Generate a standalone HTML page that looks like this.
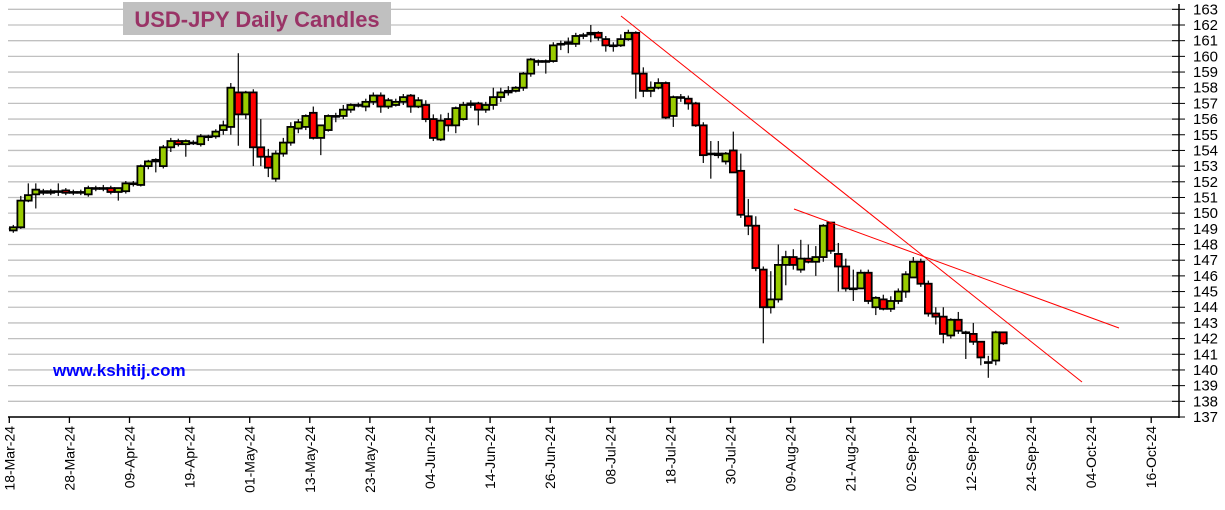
<!DOCTYPE html>
<html><head><meta charset="utf-8"><style>
body{margin:0;background:#fff;}
svg{display:block;font-family:"Liberation Sans",Arial,sans-serif;}
</style></head><body>
<svg id="s" width="1225" height="510" xmlns="http://www.w3.org/2000/svg"></svg>
<script>
const s=document.getElementById('s');
const Y=p=>417-(p-137)*15.68;
const X=i=>13.3+7.5*i;
let h='';
for(let p=137;p<=163;p++){const y=Y(p);h+=`<line x1="8" x2="1179" y1="${y}" y2="${y}" stroke="#c0c0c0" stroke-width="1.3"/>`;
h+=`<line x1="1172" x2="1185" y1="${y}" y2="${y}" stroke="#000" stroke-width="1"/>`;
h+=`<text x="1193" y="${y+5}" font-size="15">${p}</text>`;}
h+=`<line x1="1179" x2="1179" y1="4" y2="418" stroke="#000" stroke-width="1.5"/>`;
h+=`<line x1="8" x2="1179" y1="417" y2="417" stroke="#000" stroke-width="1.5"/>`;
const L=["18-Mar-24","28-Mar-24","09-Apr-24","19-Apr-24","01-May-24","13-May-24","23-May-24","04-Jun-24","14-Jun-24","26-Jun-24","08-Jul-24","18-Jul-24","30-Jul-24","09-Aug-24","21-Aug-24","02-Sep-24","12-Sep-24","24-Sep-24","04-Oct-24","16-Oct-24"];
L.forEach((t,k)=>{const x=9.3+60.1*k;h+=`<line x1="${x}" x2="${x}" y1="417" y2="423" stroke="#000" stroke-width="1.3"/>`;
h+=`<text transform="translate(${x+5},426) rotate(-90)" text-anchor="end" font-size="14">${t}</text>`;});
const D=[[148.9,149.1],[149.1,150.8,151.1,149.0],[150.8,151.15,151.9,150.7],[151.2,151.5,151.9,150.3],[151.4,151.3],[151.3,151.4],[151.35,151.4,151.9,151.1],[151.45,151.3],[151.35,151.3],[151.3,151.35],[151.2,151.6],[151.55,151.6],[151.6,151.6,151.8,151.4],[151.6,151.35],[151.35,151.6,151.6,150.8],[151.4,151.9],[151.85,151.9],[151.8,153.0,153.1,151.7],[153.0,153.3,153.4,152.8],[153.3,153.4,153.5,152.6],[153.0,154.2],[154.2,154.6,154.8,153.9],[154.6,154.4],[154.4,154.6,154.7,153.6],[154.5,154.5],[154.4,154.9],[154.9,154.9,155.0,154.6],[154.9,155.2],[155.3,155.6,155.9,155.0],[155.5,158.0,158.3,155.0],[157.7,156.3,160.2,154.3],[156.3,157.7,157.8,156.0],[157.7,154.2,157.9,153.0],[154.2,153.6,156.0,153.0],[153.6,152.9,154.1,152.3],[152.2,153.8,154.0,152.0],[153.8,154.5,154.8,153.6],[154.5,155.5,155.8,154.3],[155.4,155.8,156.0,155.1],[155.5,156.2,156.3,155.3],[156.4,154.8,156.8,154.7],[154.8,155.6,155.6,153.7],[155.3,156.2,156.3,155.2],[156.2,156.2,156.4,155.8],[156.2,156.6,156.9,156.0],[156.6,156.9,157.0,156.4],[156.9,156.9],[156.8,157.1,157.3,156.5],[157.1,157.5,157.7,156.9],[157.5,156.8,157.7,156.4],[156.8,157.2],[156.9,157.1,157.3,156.8],[157.1,157.4,157.6,156.9],[157.5,156.8,157.6,156.4],[156.8,157.2,157.4,156.7],[156.9,156.0,157.2,155.8],[156.0,154.8,156.3,154.6],[154.7,155.9,156.3,154.6],[156.0,155.6,156.4,155.2],[155.6,156.7,156.8,155.1],[156.0,156.9,157.1,155.9],[156.9,157.0,157.2,156.7],[157.0,156.6,157.1,155.6],[156.6,156.9,157.1,156.4],[156.9,157.4,158.0,156.6],[157.4,157.7,158.0,157.1],[157.7,157.8,158.1,157.5],[157.8,158.0,158.1,157.7],[158.0,158.9,159.0,157.8],[158.9,159.8,159.9,158.7],[159.7,159.7,159.8,159.4],[159.7,159.7,159.8,158.9],[159.7,160.7,160.9,159.6],[160.8,160.8,161.0,160.4],[160.8,160.9,161.2,160.2],[160.8,161.3,161.5,160.6],[161.3,161.35,161.5,161.1],[161.4,161.5,162.0,160.9],[161.5,161.2,161.6,161.0],[161.1,160.7,161.3,160.3],[160.7,160.7,160.9,160.3],[160.7,161.1,161.4,160.6],[161.1,161.5,161.7,161.0],[161.5,158.9,161.6,157.3],[158.9,157.8,159.3,157.4],[157.8,158.0,158.4,157.4],[158.0,158.3,158.6,157.9],[158.3,156.1,158.4,156.0],[156.2,157.4,157.5,155.5],[157.4,157.4,157.6,157.1],[157.3,157.0,157.5,156.6],[157.0,155.6,157.1,155.5],[155.6,153.7,155.8,153.2],[153.8,153.8,154.6,152.2],[153.8,153.7,154.6,153.5],[153.3,153.8,153.9,153.1],[154.0,152.6,155.2,152.6],[152.7,149.9,153.8,149.7],[149.8,149.2,150.9,148.6],[149.2,146.5,149.8,146.3],[146.4,144.0,146.6,141.7],[144.0,144.5,146.3,143.6],[144.5,146.7,148.0,144.3],[146.7,147.2,147.6,145.4],[147.2,146.7,147.7,146.4],[146.4,147.1,148.3,146.2],[147.1,146.9,148.0,146.8],[146.9,147.2,147.9,146.0],[147.2,149.2,149.3,146.9],[149.4,147.6,149.4,147.4],[147.4,146.6,148.1,145.0],[146.6,145.2,147.1,145.0],[145.2,145.2,146.4,144.4],[145.2,146.2,146.4,145.2],[146.2,144.4,146.4,144.2],[144.0,144.6,144.7,143.5],[144.5,143.9,144.8,143.8],[143.9,144.4,144.7,143.7],[144.4,145.0,145.2,144.2],[145.0,146.1,146.3,144.6],[145.9,146.9,147.2,145.9],[146.9,145.5,147.1,145.3],[145.5,143.6,145.7,143.4],[143.6,143.4,144.0,142.9],[143.4,142.3,144.0,141.7],[142.2,143.2,143.3,142.0],[143.2,142.5,143.7,142.3],[142.4,142.4,142.5,140.7],[142.3,141.8,143.0,141.6],[141.8,140.8,141.8,140.3],[140.5,140.5,140.9,139.5],[140.6,142.4,142.5,140.3],[142.4,141.7,142.4,141.6]];
D.forEach((d,i)=>{let [o,c,hi,lo]=d;if(hi===undefined){hi=Math.max(o,c)+0.15;lo=Math.min(o,c)-0.15;}
const x=X(i);h+=`<line x1="${x}" x2="${x}" y1="${Y(hi)}" y2="${Y(lo)}" stroke="#000" stroke-width="1.2"/>`;
const t=Y(Math.max(o,c)),b=Y(Math.min(o,c));const col=c>o?'#99cc00':(c<o?'#ff0000':'#000');
h+=`<rect x="${x-3.4}" y="${t}" width="6.8" height="${Math.max(b-t,0.8)}" fill="${col}" stroke="#000" stroke-width="1.8"/>`;});
h+=`<line x1="621" y1="16" x2="1082" y2="382" stroke="#ff0000" stroke-width="1"/>`;
h+=`<line x1="794" y1="209" x2="1119" y2="328" stroke="#ff0000" stroke-width="1"/>`;
h+=`<rect x="123" y="2" width="268" height="33" fill="#c0c0c0"/>`;
h+=`<text x="257" y="27" text-anchor="middle" font-size="22" font-weight="bold" fill="#993366">USD-JPY Daily Candles</text>`;
h+=`<text x="53" y="376" font-size="17" font-weight="bold" fill="#0000ff">www.kshitij.com</text>`;
s.innerHTML=h;
</script>
</body></html>
